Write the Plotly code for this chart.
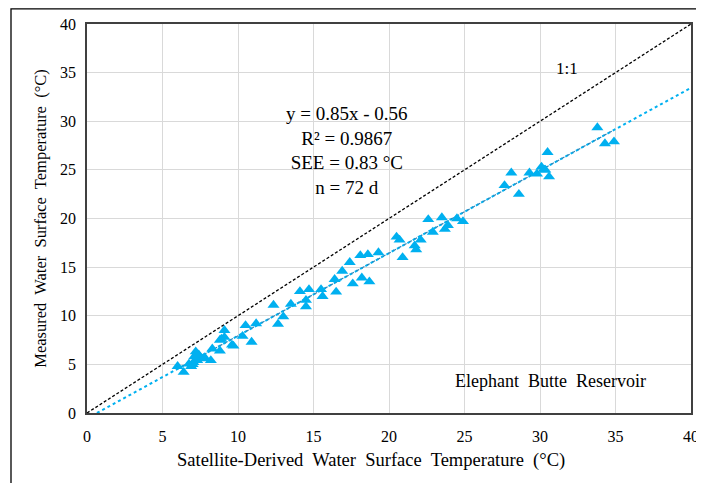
import plotly.graph_objects as go

# Satellite-derived (x) vs measured (y) water surface temperature, deg C
sat_x = [6.0, 6.4, 6.75, 7.1, 7.2, 7.05, 7.5, 7.7, 8.2, 8.3, 8.8, 8.8, 9.1, 9.1,
         9.6, 9.7, 10.3, 10.5, 10.9, 11.2, 12.35, 12.65, 13.0, 13.5, 14.1, 14.5,
         14.5, 14.7, 15.5, 15.6, 16.4, 16.5, 16.9, 17.4, 17.6, 18.1, 18.2, 18.6,
         18.7, 19.3, 20.5, 20.7, 20.9, 21.7, 21.8, 22.1, 22.6, 22.9, 23.5, 23.7,
         23.9, 24.5, 24.9, 27.65, 28.1, 28.6, 29.3, 29.8, 30.1, 30.35, 30.5, 30.6,
         33.8, 34.3, 34.9, 7.0, 7.3, 6.9, 7.4, 8.9, 7.8, 30.3]
meas_y = [4.8, 4.2, 5.05, 5.8, 6.3, 5.2, 5.7, 5.6, 5.4, 6.6, 7.5, 6.4, 7.8, 8.5,
          7.0, 6.9, 7.9, 9.0, 7.3, 9.2, 11.1, 9.15, 9.9, 11.2, 12.5, 11.6,
          10.95, 12.7, 12.7, 12.0, 13.75, 12.45, 14.6, 15.5, 13.3, 16.2, 13.9, 16.3,
          13.5, 16.5, 18.1, 17.8, 16.0, 17.2, 16.8, 17.8, 19.9, 18.6, 20.1, 18.9,
          19.3, 20.0, 19.7, 23.4, 24.7, 22.5, 24.7, 24.6, 25.3, 25.0, 26.8, 24.3,
          29.35, 27.7, 27.9, 5.0, 5.4, 4.8, 6.0, 7.6, 5.7, 25.0]

slope = 0.85
intercept = -0.56
one_to_one = [0, 40]
trend_x = [-intercept / slope, 40]
fit_x = [min(sat_x), max(sat_x)]

tick_vals = [0, 5, 10, 15, 20, 25, 30, 35, 40]

FONT = "Liberation Serif, Times New Roman, serif"
BLUE = "#00B0F0"

# figure sits at (8, 8) in the page because of the default body margin
L, R, T, B = 79, 13, 16, 70
W, H = 696, 475
PW, PH = W - L - R, H - T - B

fig = go.Figure()

fig.add_trace(go.Scatter(x=one_to_one, y=one_to_one, mode="lines",
                         line=dict(color="black", width=1.3, dash="3px,2px"),
                         showlegend=False, hoverinfo="skip"))
fig.add_trace(go.Scatter(x=trend_x, y=[slope * v + intercept for v in trend_x], mode="lines",
                         line=dict(color=BLUE, width=2, dash="dot"),
                         showlegend=False, hoverinfo="skip"))
fig.add_trace(go.Scatter(x=fit_x, y=[slope * v + intercept for v in fit_x], mode="lines",
                         line=dict(color="#2F86B8", width=1.2, dash="3px,3px"),
                         showlegend=False, hoverinfo="skip"))
fig.add_trace(go.Scatter(x=sat_x, y=meas_y, mode="markers",
                         marker=dict(symbol="triangle-up", size=10.5, color=BLUE),
                         showlegend=False))

fig.add_annotation(x=17.2, y=27.0, xref="x", yref="y",
                   text="y = 0.85x - 0.56<br>R² = 0.9867<br>SEE = 0.83 °C<br>n = 72 d",
                   showarrow=False, align="center",
                   font=dict(family=FONT, size=19, color="black"))
fig.add_annotation(x=31.8, y=35.4, xref="x", yref="y", text="1:1", showarrow=False,
                   font=dict(family=FONT, size=17, color="black"))
fig.add_annotation(x=30.7, y=3.3, xref="x", yref="y", text="Elephant  Butte  Reservoir",
                   showarrow=False, font=dict(family=FONT, size=18, color="black"))
# x-axis title (offset left, as in the reference)
fig.add_annotation(x=(371 - 87) / PW, y=-(460 - 413) / PH, xref="paper", yref="paper",
                   text="Satellite-Derived  Water  Surface  Temperature  (°C)",
                   showarrow=False, yanchor="middle",
                   font=dict(family=FONT, size=18.5, color="black"))

# outer frame (top and left edges visible)
fig.add_shape(type="rect", xref="paper", yref="paper",
              x0=(3 - L) / PW, x1=1.2, y0=-0.3, y1=1 + (T - 0.8) / PH,
              line=dict(color="black", width=1.3), fillcolor="rgba(0,0,0,0)", layer="below")

axis_common = dict(range=[0, 40], tickvals=tick_vals, showgrid=True, automargin=False,
                   gridcolor="#D9D9D9", gridwidth=1.3, zeroline=False,
                   showline=True, linecolor="#404040", linewidth=1.5, mirror=True,
                   ticks="", tickfont=dict(family=FONT, size=16, color="black"))

fig.update_xaxes(**axis_common, ticklabelstandoff=8)
fig.update_yaxes(**axis_common, ticklabelstandoff=6,
                 title=dict(text="Measured  Water  Surface  Temperature  (°C)",
                            font=dict(family=FONT, size=16.5, color="black"), standoff=9))

fig.update_layout(width=W, height=H,
                  margin=dict(l=L, r=R, t=T, b=B),
                  paper_bgcolor="white", plot_bgcolor="white",
                  font=dict(family=FONT))

fig.write_html("out.html")
